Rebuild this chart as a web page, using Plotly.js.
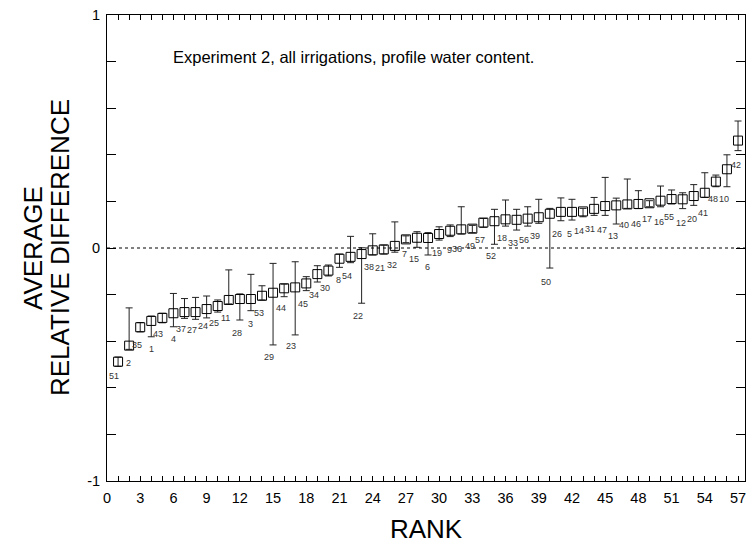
<!DOCTYPE html>
<html>
<head>
<meta charset="utf-8">
<script src="https://cdn.plot.ly/plotly-3.0.1.min.js"></script>
<style>html,body{margin:0;padding:0;background:#fff;}#chart{width:747px;height:548px;}</style>
</head>
<body>
<div id="chart"></div>
<script>
// ---- data ----
const ranks = [1,2,3,4,5,6,7,8,9,10,11,12,13,14,15,16,17,18,19,20,21,22,23,24,25,26,27,28,29,30,31,32,33,34,35,36,37,38,39,40,41,42,43,44,45,46,47,48,49,50,51,52,53,54,55,56,57];
const stationLabels = ["51","2","35","1","43","4","37","27","24","25","11","28","3","53","29","44","23","45","34","30","8","54","22","38","21","32","7","15","6","19","9","36","49","57","52","18","33","56","39","50","26","5","14","31","47","13","40","46","17","16","55","12","20","41","48","10","42"];
const meanRelDiff = [-0.488,-0.419,-0.340,-0.313,-0.300,-0.280,-0.275,-0.275,-0.262,-0.249,-0.223,-0.219,-0.219,-0.205,-0.192,-0.173,-0.169,-0.152,-0.112,-0.097,-0.046,-0.038,-0.026,-0.010,-0.006,0.009,0.037,0.044,0.043,0.060,0.074,0.080,0.083,0.109,0.115,0.123,0.121,0.126,0.132,0.147,0.155,0.155,0.157,0.168,0.180,0.183,0.187,0.189,0.192,0.203,0.210,0.209,0.223,0.237,0.285,0.338,0.461];
const errUp = [0.020,0.162,0.020,0.021,0.020,0.085,0.058,0.063,0.056,0.026,0.129,0.022,0.106,0.043,0.126,0.018,0.110,0.029,0.036,0.024,0.020,0.088,0.027,0.071,0.018,0.103,0.015,0.026,0.023,0.031,0.025,0.097,0.014,0.018,0.051,0.083,0.045,0.051,0.077,0.023,0.060,0.054,0.013,0.049,0.123,0.031,0.109,0.057,0.011,0.063,0.039,0.028,0.049,0.086,0.028,0.062,0.084];
const errDown = [0.020,0.016,0.020,0.068,0.021,0.058,0.027,0.031,0.038,0.026,0.017,0.090,0.050,0.018,0.224,0.036,0.204,0.031,0.034,0.023,0.037,0.025,0.211,0.020,0.020,0.027,0.014,0.041,0.073,0.026,0.025,0.020,0.017,0.020,0.099,0.029,0.044,0.032,0.026,0.233,0.038,0.035,0.023,0.028,0.040,0.080,0.017,0.020,0.015,0.026,0.021,0.040,0.040,0.020,0.022,0.075,0.043];
const xTickLabels = ["0","3","6","9","12","15","18","21","24","27","30","33","36","39","42","45","48","51","54","57"];
const yTickLabels = ["-1","0","1"];
const yTitleLines = ["AVERAGE", "RELATIVE DIFFERENCE"];

// ---- label placement (pixel offsets from each point; layout only) ----
const labelDx = [-4,-1,-3,0,-4,0,-3,-4,-4,-4,-3,-3,0,-3,-4,-3,-4,-3,-3,-3,-1,-4,-4,-4,-4,-3,-1,-3,-1,-2,-1,-4,-2,-3,-3,-4,-4,-4,-4,-4,-4,-2,-4,-4,-3,-3,-3,-2,-2,-2,-3,-2,-2,-2,-3,-3,-2];
const labelDy = [14,17,18,28,16,26,17,18,17,17,18,34,25,17,64,20,59,21,21,17,21,19,62,17,19,19,15,21,29,19,19,20,17,17,35,19,23,21,19,68,22,22,20,20,24,31,21,20,16,21,18,24,23,20,17,30,24];

// ticks: every integer on x, labels every 3; every 0.2 on y, labels at -1,0,1
const xTickVals = [], xTickText = [];
for (let i = 0; i <= 57; i++) { xTickVals.push(i); xTickText.push(""); }
xTickLabels.forEach(t => { xTickText[Number(t)] = t; });
const yTickVals = [-1,-0.8,-0.6,-0.4,-0.2,0,0.2,0.4,0.6,0.8,1];
const yTickText = yTickVals.map(v => { const s = String(v); return yTickLabels.includes(s) ? s : ""; });

const font = "Liberation Sans, Arial, sans-serif";

const trace = {
  x: ranks,
  y: meanRelDiff,
  type: "scatter",
  mode: "markers",
  marker: {symbol: "square-open", size: 9, color: "#000", line: {width: 1, color: "#000"}},
  error_y: {type: "data", symmetric: false, array: errUp, arrayminus: errDown, color: "#222", thickness: 1, width: 3.5},
  hoverinfo: "skip"
};

const annotations = stationLabels.map((s, i) => ({
  x: ranks[i], y: meanRelDiff[i], xref: "x", yref: "y",
  text: s, showarrow: false, xanchor: "center", yanchor: "middle",
  xshift: labelDx[i], yshift: -labelDy[i],
  font: {family: font, size: 9, color: "#333"}
}));
annotations.push({
  xref: "paper", yref: "paper", x: 0.101, y: 0.91, xanchor: "left", yanchor: "middle",
  text: "Experiment 2, all irrigations, profile water content.", showarrow: false,
  font: {family: font, size: 16.5, color: "#000"}
});
// y-axis title (two tightly spaced lines, as in the reference)
[-0.116, -0.0735].forEach((px, i) => annotations.push({
  xref: "paper", yref: "paper", x: px, y: 0.5, xanchor: "center", yanchor: "middle",
  text: yTitleLines[i], textangle: -90, showarrow: false,
  font: {family: font, size: 26, color: "#000"}
}));

const layout = {
  width: 747, height: 548,
  margin: {l: 107, r: 2, t: 15, b: 67, pad: 0},
  paper_bgcolor: "#fff", plot_bgcolor: "#fff",
  showlegend: false,
  font: {family: font, color: "#000"},
  xaxis: {
    range: [0, 57.63], tickmode: "array", tickvals: xTickVals, ticktext: xTickText,
    ticks: "inside", ticklen: 5, tickwidth: 1, tickcolor: "#000",
    showline: true, linecolor: "#000", linewidth: 1, mirror: "ticks",
    showgrid: false, zeroline: false, ticklabelstandoff: 4,
    tickfont: {family: font, size: 14.5, color: "#000"},
    title: {text: "RANK", font: {family: font, size: 26, color: "#000"}, standoff: 14}
  },
  yaxis: {
    range: [-1, 1], tickmode: "array", tickvals: yTickVals, ticktext: yTickText,
    ticks: "inside", ticklen: 9, tickwidth: 1, tickcolor: "#000",
    showline: true, linecolor: "#000", linewidth: 1, mirror: "ticks",
    showgrid: false, zeroline: false, ticklabelstandoff: 3,
    tickfont: {family: font, size: 14.5, color: "#000"}
  },
  shapes: [{type: "line", xref: "paper", yref: "y", x0: 0, x1: 1, y0: 0, y1: 0,
            line: {color: "#000", width: 1, dash: "dot"}}],
  annotations: annotations
};

Plotly.newPlot("chart", [trace], layout, {displayModeBar: false, staticPlot: true});
</script>
</body>
</html>
